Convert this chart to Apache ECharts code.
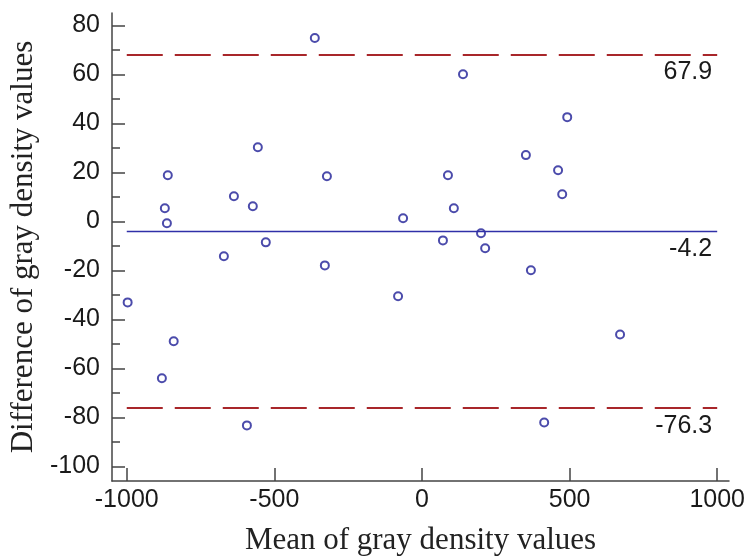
<!DOCTYPE html>
<html>
<head>
<meta charset="utf-8">
<script src="https://cdn.jsdelivr.net/npm/echarts@6/dist/echarts.min.js"></script>
<style>
  html, body { margin: 0; padding: 0; background: #fff; }
  #chart { width: 750px; height: 560px; }
</style>
</head>
<body>
<div id="chart"></div>
<script>
// Bland-Altman: mean vs difference of gray density values
const meanValues = [-997, -881, -841, -861, -871, -864, -671, -637, -573, -556, -529, -593, -363, -322, -329,
  -81, -64, 71, 88, 108, 139, 200, 214, 352, 461, 475, 492, 369, 671, 414];
const diffValues = [-33.1, -64.1, -49.0, 18.8, 5.3, -0.8, -14.3, 10.2, 6.1, 30.2, -8.6, -83.3, 74.8, 18.4, -18.0,
  -30.6, 1.2, -7.8, 18.8, 5.3, 60.0, -4.9, -11.0, 27.0, 20.8, 11.0, 42.5, -20.0, -46.2, -82.1];

const meanDiff = -4.2;
const upperLimit = 67.9;
const lowerLimit = -76.3;
const lineFrom = -1000;
const lineTo = 1000;

const xTicks = [-1000, -500, 0, 500, 1000];
const yTicks = [-100, -80, -60, -40, -20, 0, 20, 40, 60, 80];
const yMinorTicks = [-90, -70, -50, -30, -10, 10, 30, 50, 70];

const axisColor = "#444";
const labelFont = { color: "#1a1a1a", fontSize: 25, fontFamily: "Liberation Sans, Arial, sans-serif" };
const titleFont = { color: "#222", fontSize: 31, fontFamily: "Liberation Serif, Times New Roman, serif" };

function limitLine(value, color, type, width) {
  return {
    silent: true,
    symbol: "none",
    lineStyle: { color: color, type: type, width: width },
    label: {
      show: true,
      position: "insideEndBottom",
      distance: 5,
      formatter: value.toFixed(1),
      ...labelFont,
    },
    data: [[{ coord: [lineFrom, value] }, { coord: [lineTo, value] }]],
  };
}

let series = [];

series.push({
  name: "points",
  type: "scatter",
  symbol: "circle",
  symbolSize: 8,
  itemStyle: { color: "transparent", borderColor: "#1e1e96", borderWidth: 2 },
  data: meanValues.map((x, i) => [x, diffValues[i]]),
  markLine: limitLine(meanDiff, "#3030a8", "solid", 1.3),
  z: 3,
});

series.push({
  name: "upper",
  type: "scatter",
  data: [],
  markLine: limitLine(upperLimit, "#a8262a", [36, 12], 2),
});

series.push({
  name: "lower",
  type: "scatter",
  data: [],
  markLine: limitLine(lowerLimit, "#a8262a", [36, 12], 2),
});

const tickStyle = { color: axisColor, width: 1.5 };

let options = {
  animation: false,
  backgroundColor: "#fff",
  grid: { left: 112, top: 13, right: 21, bottom: 79, outerBoundsMode: "none" },
  xAxis: {
    type: "value",
    min: -1050,
    max: 1040,
    name: "Mean of gray density values",
    nameLocation: "middle",
    nameGap: 44,
    nameTextStyle: titleFont,
    splitLine: { show: false },
    axisLine: { show: true, onZero: false, lineStyle: tickStyle },
    axisTick: { show: true, inside: true, length: 13, customValues: xTicks, lineStyle: tickStyle },
    axisLabel: { margin: 7, customValues: xTicks, formatter: (v) => String(v), ...labelFont },
  },
  yAxis: [
    {
      type: "value",
      min: -106,
      max: 85,
      name: "Difference of gray density values",
      nameLocation: "middle",
      nameRotate: 90,
      nameGap: 68,
      nameTextStyle: titleFont,
      splitLine: { show: false },
      axisLine: { show: true, onZero: false, lineStyle: tickStyle },
      axisTick: { show: true, inside: true, length: 13, customValues: yTicks, lineStyle: tickStyle },
      axisLabel: { margin: 12, customValues: yTicks, formatter: (v) => String(v), ...labelFont },
    },
    {
      // minor ticks only
      type: "value",
      min: -106,
      max: 85,
      position: "left",
      splitLine: { show: false },
      axisLine: { show: false, onZero: false },
      axisTick: { show: true, inside: true, length: 8, customValues: yMinorTicks, lineStyle: tickStyle },
      axisLabel: { show: false },
    },
  ],
  series,
};

var chart = echarts.init(document.getElementById("chart"));
chart.setOption(options);
window.addEventListener("resize", function () {
  chart.resize();
});
</script>
</body>
</html>
